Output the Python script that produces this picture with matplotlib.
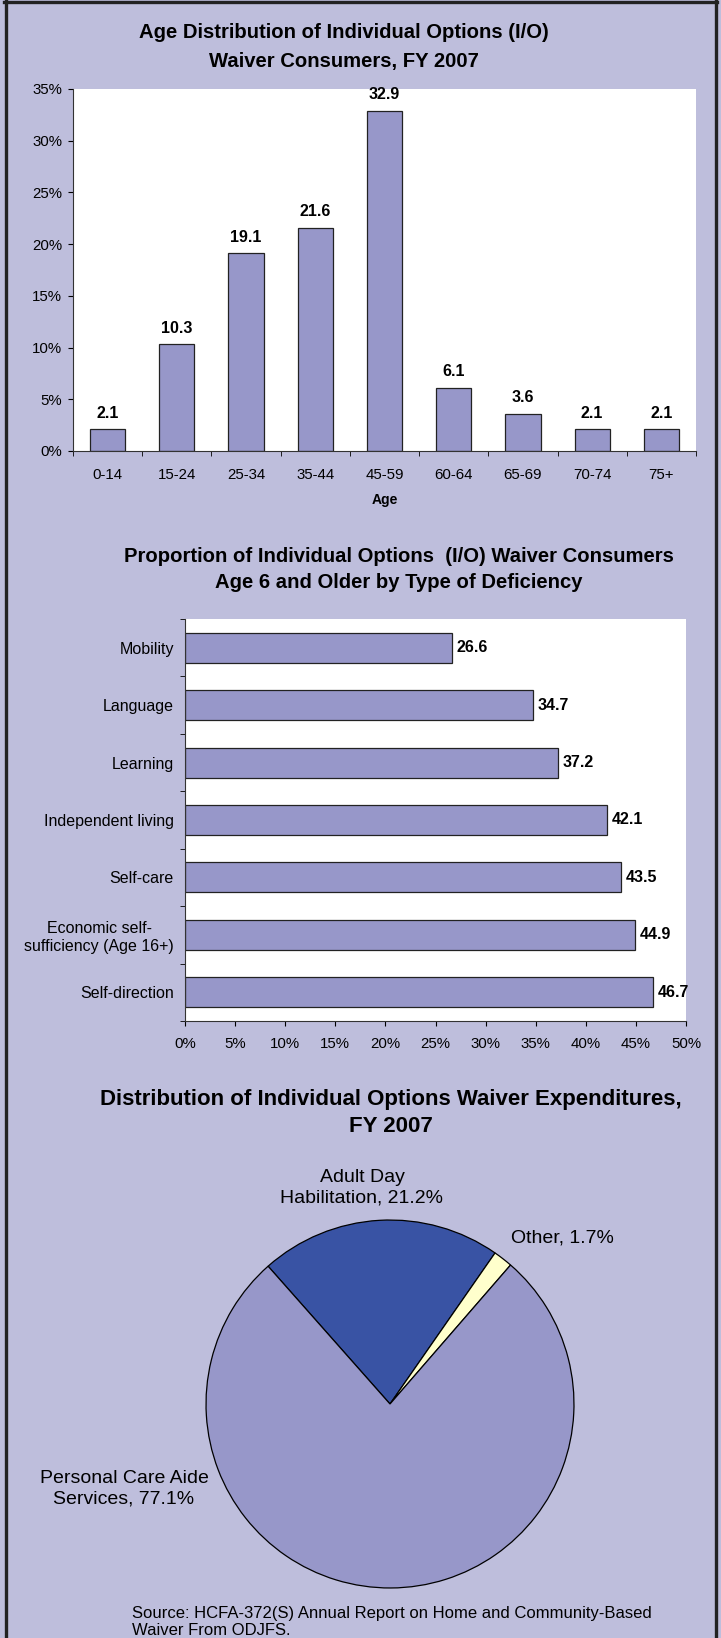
import matplotlib
matplotlib.use("Agg")
import matplotlib.pyplot as plt
from matplotlib.lines import Line2D
from matplotlib.ticker import FixedLocator, NullFormatter

plt.rcParams['font.family'] = ['Liberation Sans', 'DejaVu Sans']

# chart 1: age distribution
age_groups = ["0-14", "15-24", "25-34", "35-44", "45-59", "60-64", "65-69", "70-74", "75+"]
age_pct = [2.1, 10.3, 19.1, 21.6, 32.9, 6.1, 3.6, 2.1, 2.1]

# chart 2: deficiency types (top to bottom)
deficiency = ["Mobility", "Language", "Learning", "Independent living", "Self-care",
              "Economic self-\nsufficiency (Age 16+)", "Self-direction"]
deficiency_pct = [26.6, 34.7, 37.2, 42.1, 43.5, 44.9, 46.7]

# chart 3: expenditures
exp_labels = ["Adult Day\nHabilitation, 21.2%", "Other, 1.7%", "Personal Care Aide\nServices, 77.1%"]
exp_pct = [21.2, 1.7, 77.1]

W, H = 721, 1638
BG = "#BEBEDC"
BAR = "#9797C9"
DARK_BLUE = "#3953A4"
PALE = "#FFFFCC"
TICK = 10.8

fig = plt.figure(figsize=(W / 100, H / 100), dpi=100)
fig.patch.set_facecolor(BG)


def box(left, top, right, bottom):
    # pixel box -> figure fraction rect
    return [left / W, 1 - bottom / H, (right - left) / W, (bottom - top) / H]


def ftext(x, y, s, **kw):
    fig.text(x / W, 1 - y / H, s, **kw)


# frame (top, left, right; bottom runs off the page)
for xs, ys in [([4, W - 4], [2, 2]), ([5.5, 5.5], [0, H]), ([W - 5, W - 5], [0, H])]:
    fig.add_artist(Line2D([x / W for x in xs], [1 - y / H for y in ys],
                          transform=fig.transFigure, color="#222222", lw=2.4))

# ---- chart 1 ----
ftext(344, 33, "Age Distribution of Individual Options (I/O)", ha="center", va="center",
      fontsize=14.6, fontweight="bold")
ftext(344, 62, "Waiver Consumers, FY 2007", ha="center", va="center",
      fontsize=14.6, fontweight="bold")

ax1 = fig.add_axes(box(73, 89, 696, 451))
ax1.set_facecolor("white")
x = list(range(len(age_groups)))
ax1.bar(x, age_pct, width=0.51, color=BAR, edgecolor="#222222", linewidth=0.9)
for xi, v in zip(x, age_pct):
    ax1.text(xi, v + 1.55, f"{v:.1f}", ha="center", va="center", fontsize=11.5, fontweight="bold")
ax1.set_xlim(-0.5, len(age_groups) - 0.5)
ax1.set_ylim(0, 35)
ax1.set_yticks(range(0, 36, 5))
ax1.set_yticklabels([f"{t}%" for t in range(0, 36, 5)], fontsize=TICK)
ax1.set_xticks(x)
ax1.set_xticklabels(age_groups, fontsize=TICK)
ax1.tick_params(axis="x", which="major", length=0, pad=12.5)
ax1.xaxis.set_minor_locator(FixedLocator([i - 0.5 for i in range(len(age_groups) + 1)]))
ax1.xaxis.set_minor_formatter(NullFormatter())
ax1.tick_params(axis="x", which="minor", length=3.6, direction="out")
ax1.tick_params(axis="y", length=3.6, direction="out", pad=4.3)
for s in ["top", "right"]:
    ax1.spines[s].set_visible(False)
ax1.spines["left"].set_color("#333333")
ax1.spines["bottom"].set_color("#333333")
ftext(385, 500, "Age", ha="center", va="center", fontsize=10, fontweight="bold")

# ---- chart 2 ----
ftext(399, 556, "Proportion of Individual Options  (I/O) Waiver Consumers", ha="center",
      va="center", fontsize=14.6, fontweight="bold")
ftext(399, 583, "Age 6 and Older by Type of Deficiency", ha="center", va="center",
      fontsize=14.6, fontweight="bold")

ax2 = fig.add_axes(box(185, 619, 686, 1021))
ax2.set_facecolor("white")
y = list(range(len(deficiency)))
ax2.barh(y, deficiency_pct, height=0.52, color=BAR, edgecolor="#222222", linewidth=0.9)
for yi, v in zip(y, deficiency_pct):
    ax2.text(v + 0.45, yi, f"{v:.1f}", ha="left", va="center", fontsize=11.5, fontweight="bold")
ax2.set_xlim(0, 50)
ax2.set_ylim(len(deficiency) - 0.5, -0.5)
ax2.set_xticks(range(0, 51, 5))
ax2.set_xticklabels([f"{t}%" for t in range(0, 51, 5)], fontsize=TICK)
ax2.set_yticks(y)
ax2.set_yticklabels(deficiency, fontsize=11.5, multialignment="center")
ax2.tick_params(axis="y", which="major", length=0, pad=8)
ax2.yaxis.set_minor_locator(FixedLocator([i - 0.5 for i in range(len(deficiency) + 1)]))
ax2.yaxis.set_minor_formatter(NullFormatter())
ax2.tick_params(axis="y", which="minor", length=3.6, direction="out")
ax2.tick_params(axis="x", length=3.6, direction="out", pad=8)
for s in ["top", "right"]:
    ax2.spines[s].set_visible(False)
ax2.spines["left"].set_color("#333333")
ax2.spines["bottom"].set_color("#333333")

# ---- chart 3 ----
ftext(391, 1099, "Distribution of Individual Options Waiver Expenditures,", ha="center",
      va="center", fontsize=16, fontweight="bold")
ftext(391, 1127, "FY 2007", ha="center", va="center", fontsize=16, fontweight="bold")

cx, cy, r = 390, 1404, 184
ax3 = fig.add_axes(box(cx - r - 2, cy - r - 2, cx + r + 2, cy + r + 2))
ax3.set_facecolor("none")
ax3.pie(exp_pct, colors=[DARK_BLUE, PALE, BAR], startangle=131.5, counterclock=False,
        wedgeprops=dict(edgecolor="black", linewidth=0.9))
ax3.set_xlim(-1.011, 1.011)
ax3.set_ylim(-1.011, 1.011)
ax3.set_aspect("equal")
ax3.axis("off")

label_pos = [(362, 1188), (562, 1238), (124, 1489)]
for (lx, ly), lab in zip(label_pos, exp_labels):
    ftext(lx, ly, lab, ha="center", va="center", fontsize=14, linespacing=1.25)

ftext(132, 1622, "Source: HCFA-372(S) Annual Report on Home and Community-Based\nWaiver From ODJFS.",
      ha="left", va="center", fontsize=12, linespacing=1.2)

fig.savefig("out.png", dpi=100, facecolor=fig.get_facecolor())
